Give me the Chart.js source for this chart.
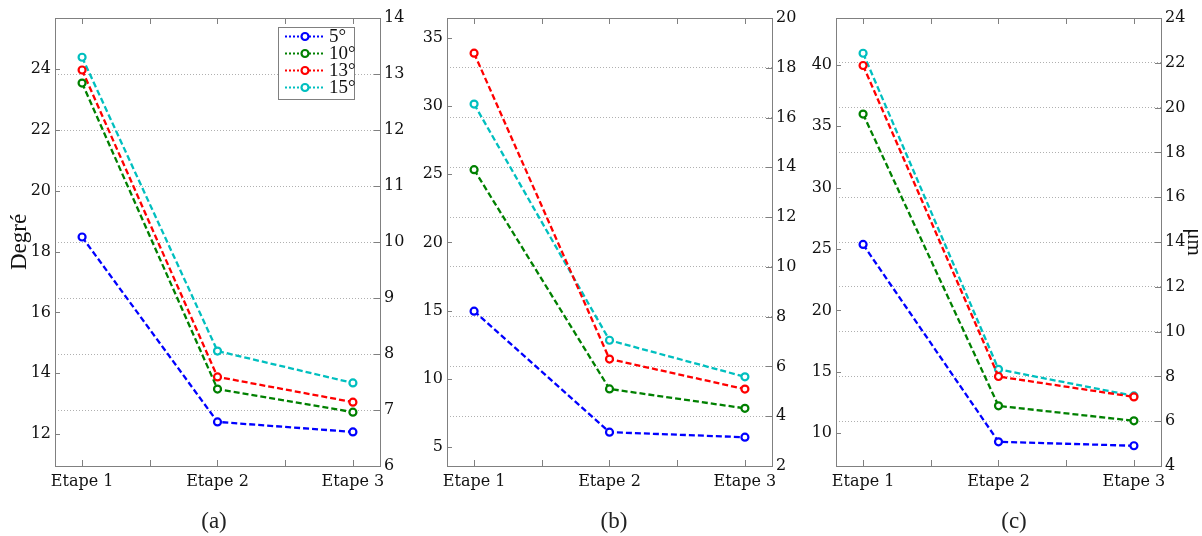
<!DOCTYPE html>
<html>
<head>
<meta charset="utf-8">
<script src="https://cdn.jsdelivr.net/npm/chart.js@4.4.0/dist/chart.umd.min.js"></script>
<style>
    html, body { margin: 0; padding: 0; background: #fff; }
    #wrap { position: relative; width: 1202px; height: 536px; overflow: hidden; }
    canvas { position: absolute; top: 0; }
    .cap {
        position: absolute; top: 508px; transform: translateX(-50%);
        font-family: "Liberation Serif", serif; font-size: 23px; color: #222;
    }
</style>
</head>
<body>
<div id="wrap">
    <canvas id="chartA" width="410" height="536" style="left:0px"></canvas>
    <canvas id="chartB" width="400" height="536" style="left:400px"></canvas>
    <canvas id="chartC" width="402" height="536" style="left:800px"></canvas>
    <div class="cap" style="left:214px">(a)</div>
    <div class="cap" style="left:614px">(b)</div>
    <div class="cap" style="left:1014px">(c)</div>
</div>
<script>
// categories and series
const categories = ['Etape 1', 'Etape 2', 'Etape 3'];
const seriesNames = ['5°', '10°', '13°', '15°'];
const seriesColors = ['#0000ff', '#008000', '#ff0000', '#00bfbf'];

// panel (a) - Degré
const panelA_5deg = [18.48, 12.40, 12.07];
const panelA_10deg = [23.54, 13.48, 12.72];
const panelA_13deg = [23.97, 13.88, 13.05];
const panelA_15deg = [24.39, 14.73, 13.68];

// panel (b)
const panelB_5deg = [14.96, 6.09, 5.72];
const panelB_10deg = [25.34, 9.26, 7.84];
const panelB_13deg = [33.88, 11.45, 9.25];
const panelB_15deg = [30.15, 12.83, 10.15];

// panel (c) - µm
const panelC_5deg = [25.37, 9.29, 8.97];
const panelC_10deg = [35.99, 12.22, 11.00];
const panelC_13deg = [39.95, 14.61, 12.95];
const panelC_15deg = [40.95, 15.20, 13.03];

// tick labels
const xTickPos = [1, 1.5, 2, 2.5, 3];
const leftTicksA = [12, 14, 16, 18, 20, 22, 24];
const rightTicksA = [6, 7, 8, 9, 10, 11, 12, 13, 14];
const leftTicksB = [5, 10, 15, 20, 25, 30, 35];
const rightTicksB = [2, 4, 6, 8, 10, 12, 14, 16, 18, 20];
const leftTicksC = [10, 15, 20, 25, 30, 35, 40];
const rightTicksC = [4, 6, 8, 10, 12, 14, 16, 18, 20, 22, 24];

const axisColor = '#808080';
const tickFont = { family: 'DejaVu Serif', size: 16 };

// MATLAB style ticks pointing into the plot box
const innerTicks = {
    id: 'innerTicks',
    afterDraw(chart) {
        const ctx = chart.ctx;
        const a = chart.chartArea;
        ctx.save();
        ctx.strokeStyle = axisColor;
        ctx.lineWidth = 1;
        ctx.beginPath();
        const sc = chart.scales;
        sc.x.ticks.forEach(t => {
            const p = Math.round(sc.x.getPixelForValue(t.value)) + 0.5;
            ctx.moveTo(p, a.bottom); ctx.lineTo(p, a.bottom - 6);
            ctx.moveTo(p, a.top); ctx.lineTo(p, a.top + 6);
        });
        sc.yL.ticks.forEach(t => {
            const p = Math.round(sc.yL.getPixelForValue(t.value)) + 0.5;
            ctx.moveTo(a.left, p); ctx.lineTo(a.left + 5, p);
        });
        sc.yR.ticks.forEach(t => {
            const p = Math.round(sc.yR.getPixelForValue(t.value)) + 0.5;
            ctx.moveTo(a.right, p); ctx.lineTo(a.right - 6, p);
        });
        ctx.stroke();
        ctx.restore();
    }
};

// legend box with dotted line + circle marker
const boxLegend = {
    id: 'boxLegend',
    afterDraw(chart) {
        if (!chart.options.plugins.boxLegend || !chart.options.plugins.boxLegend.show) return;
        const ctx = chart.ctx;
        const a = chart.chartArea;
        const left = a.right - 102, top = a.top + 9, w = 76, h = 72;
        ctx.save();
        ctx.fillStyle = '#fff';
        ctx.fillRect(left, top, w, h);
        ctx.strokeStyle = axisColor;
        ctx.lineWidth = 1;
        ctx.strokeRect(left + 0.5, top + 0.5, w, h);
        chart.data.datasets.forEach((ds, i) => {
            const y = top + 9.5 + i * 17;
            ctx.strokeStyle = ds.borderColor;
            ctx.lineWidth = 2;
            ctx.setLineDash([2, 2]);
            ctx.beginPath();
            ctx.moveTo(left + 7, y); ctx.lineTo(left + 45, y);
            ctx.stroke();
            ctx.setLineDash([]);
            ctx.lineWidth = 2.2;
            ctx.beginPath();
            ctx.arc(left + 27, y, 3.5, 0, Math.PI * 2);
            ctx.fillStyle = '#fff';
            ctx.fill();
            ctx.stroke();
            ctx.fillStyle = '#111';
            ctx.font = '19px "Liberation Serif"';
            ctx.textBaseline = 'middle';
            ctx.fillText(ds.label, left + 51, y + 1);
        });
        ctx.restore();
    }
};

function makePanel(id, series, left, right, opts) {
    const datasets = series.map((vals, i) => ({
        label: seriesNames[i],
        data: vals.map((v, k) => ({ x: k + 1, y: v })),
        xAxisID: 'x',
        yAxisID: 'yL',
        borderColor: seriesColors[i],
        borderWidth: 2.3,
        borderDash: [6, 3],
        pointRadius: 3.5,
        pointBorderWidth: 2.2,
        pointBackgroundColor: '#fff',
        pointBorderColor: seriesColors[i],
        fill: false,
        tension: 0
    }));

    return new Chart(document.getElementById(id), {
        type: 'line',
        data: { datasets: datasets },
        options: {
            responsive: false,
            animation: false,
            devicePixelRatio: 1,
            layout: { padding: 0 },
            plugins: {
                legend: { display: false },
                tooltip: { enabled: false },
                boxLegend: { show: !!opts.legend }
            },
            scales: {
                x: {
                    type: 'linear', position: 'bottom', min: 0.8, max: 3.2,
                    afterBuildTicks: s => { s.ticks = xTickPos.map(v => ({ value: v })); },
                    afterFit: s => { s.height = 70; },
                    ticks: {
                        autoSkip: false, maxRotation: 0, padding: 6,
                        font: tickFont, color: '#111',
                        callback: v => Number.isInteger(v) ? categories[v - 1] : ''
                    },
                    grid: { display: false, drawTicks: false },
                    border: { color: axisColor }
                },
                x2: {
                    type: 'linear', position: 'top', min: 0.8, max: 3.2,
                    afterFit: s => { s.height = 18; },
                    ticks: { display: false },
                    grid: { display: false, drawTicks: false },
                    border: { color: axisColor }
                },
                yL: {
                    type: 'linear', position: 'left', min: left.min, max: left.max,
                    afterBuildTicks: s => { s.ticks = left.ticks.map(v => ({ value: v })); },
                    afterFit: s => { s.width = opts.leftW; },
                    ticks: { font: tickFont, color: '#111', padding: 4 },
                    grid: { display: false, drawTicks: false },
                    border: { color: axisColor },
                    title: {
                        display: !!opts.leftTitle, text: opts.leftTitle || '',
                        font: { family: 'Liberation Serif', size: 23 }, color: '#111',
                        padding: { top: 6, bottom: 0 }
                    }
                },
                yR: {
                    type: 'linear', position: 'right',
                    min: right[0], max: right[right.length - 1],
                    afterBuildTicks: s => { s.ticks = right.map(v => ({ value: v })); },
                    afterFit: s => { s.width = opts.rightW; },
                    ticks: { font: tickFont, color: '#111', padding: 4 },
                    grid: { color: '#b0b0b0', lineWidth: 1, drawTicks: false },
                    border: { color: axisColor, dash: [1, 2] },
                    title: {
                        display: !!opts.rightTitle, text: opts.rightTitle || '',
                        font: { family: 'Liberation Serif', size: 21 }, color: '#111',
                        padding: { top: -4, bottom: 0 }
                    }
                }
            }
        },
        plugins: [innerTicks, boxLegend]
    });
}

makePanel('chartA',
    [panelA_5deg, panelA_10deg, panelA_13deg, panelA_15deg],
    { min: 10.95, max: 25.68, ticks: leftTicksA }, rightTicksA,
    { leftW: 55, rightW: 30, leftTitle: 'Degré', legend: true });

makePanel('chartB',
    [panelB_5deg, panelB_10deg, panelB_13deg, panelB_15deg],
    { min: 3.61, max: 36.46, ticks: leftTicksB }, rightTicksB,
    { leftW: 47, rightW: 28 });

makePanel('chartC',
    [panelC_5deg, panelC_10deg, panelC_13deg, panelC_15deg],
    { min: 7.32, max: 43.82, ticks: leftTicksC }, rightTicksC,
    { leftW: 36, rightW: 41, rightTitle: 'μm' });
</script>
</body>
</html>
